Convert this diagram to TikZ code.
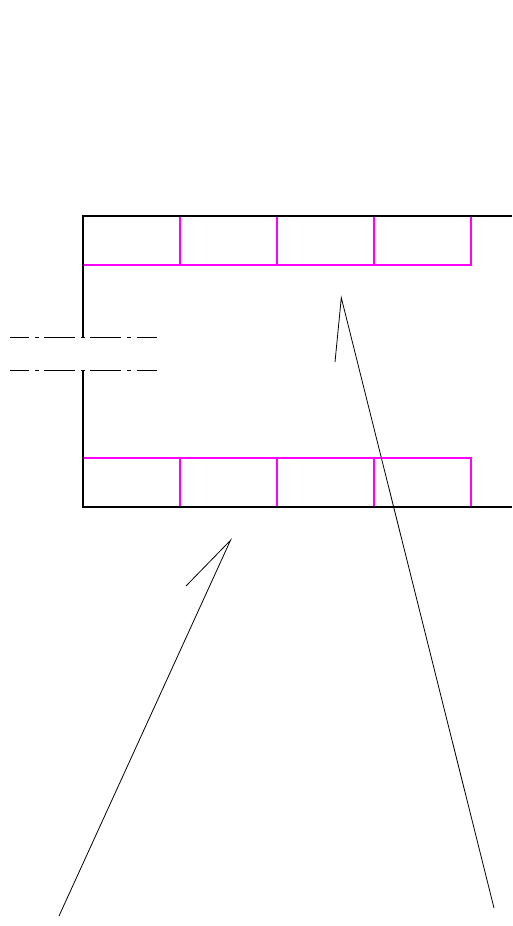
\documentclass[tikz,border=0pt]{standalone}
\definecolor{cellpink}{RGB}{255,0,255}
\tikzset{
  wall/.style={draw=black,line width=2pt},
  cell/.style={draw=cellpink,line width=2pt},
  thin line/.style={draw=black,line width=0.8pt},
  axis line/.style={draw=black,line width=0.8pt,dash pattern=on 19pt off 6pt on 4pt off 5pt on 31pt off 6pt on 4pt off 5pt on 31pt off 6pt on 4pt off 6pt on 20pt}
}
\begin{document}
\begin{tikzpicture}[x=1pt,y=-1pt]
\useasboundingbox (0,0) rectangle (512,926);
% magenta cells
\draw[cell] (83,265) -- (471,265) -- (471,216);
\draw[cell] (83,458.2) -- (471,458.2) -- (471,507);
\foreach \x in {180,277,374}{
  \draw[cell] (\x,216) -- (\x,265);
  \draw[cell] (\x,458.2) -- (\x,507);
}
% walls
\draw[wall] (512,216) -- (83,216) -- (83,338);
\draw[wall] (83,370) -- (83,507) -- (512,507);
% axis lines
\draw[axis line] (10,337.8) -- (157,337.8);
\draw[axis line] (10,370.3) -- (157,370.3);
% leaders
\draw[thin line] (335,362) -- (341.3,297.8) -- (494,908);
\draw[thin line] (186,586) -- (230.5,540.3) -- (59,916);
\end{tikzpicture}
\end{document}
